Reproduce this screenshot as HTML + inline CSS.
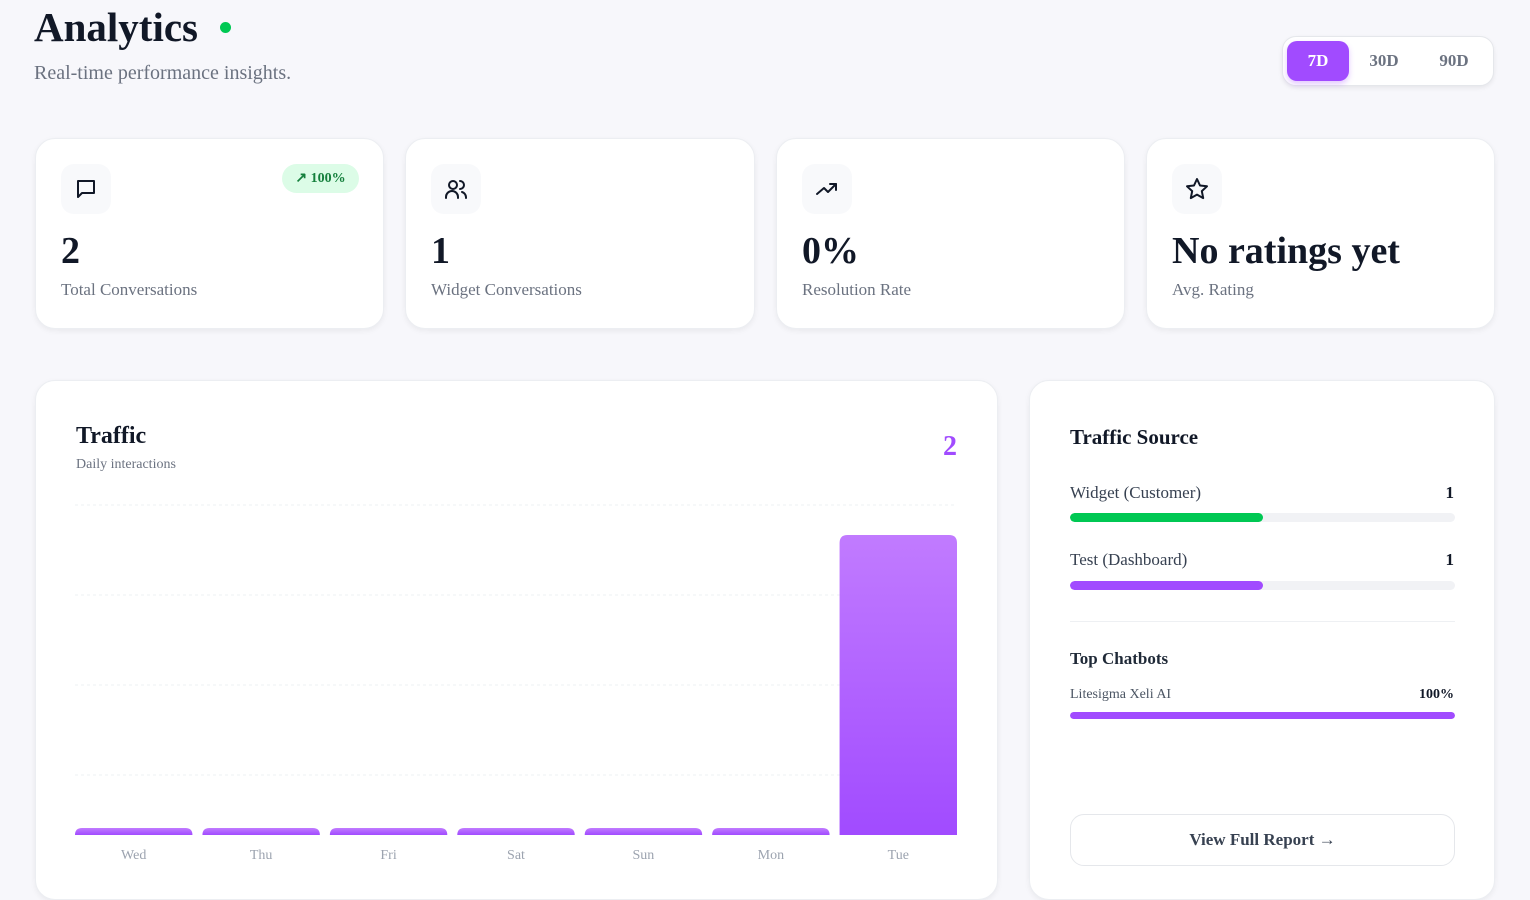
<!DOCTYPE html>
<html><head><meta charset="utf-8">
<style>
*{box-sizing:border-box;margin:0;padding:0}
body{width:1530px;height:872px;overflow:hidden;background:#f7f7fb;font-family:"Liberation Serif",serif;color:#111827;position:relative}
.abs{position:absolute}
.card{position:absolute;background:#fff;border-radius:20px;border:1px solid #eceef2;box-shadow:0 2px 6px rgba(0,0,0,0.06)}
.icon{position:absolute;left:25px;top:25px;width:50px;height:50px;border-radius:13px;background:#f8f9fb;display:flex;align-items:center;justify-content:center}
.val{position:absolute;left:25px;top:88px;font-size:38px;font-weight:bold;line-height:48px;color:#111827}
.lab{position:absolute;left:25px;top:141px;font-size:17px;color:#6b7280}
.track{position:absolute;height:9px;border-radius:5px;background:#f1f2f5;overflow:hidden}
.fill{height:100%;border-radius:5px}
</style></head><body>
<div class="abs" style="left:34px;top:2px;font-size:41px;font-weight:bold;line-height:50px">Analytics</div>
<div class="abs" style="left:220px;top:22px;width:11px;height:11px;border-radius:50%;background:#00c853"></div>
<div class="abs" style="left:34px;top:62px;font-size:20px;color:#6b7280">Real-time performance insights.</div>

<div class="abs" style="left:1282px;top:36px;width:212px;height:50px;background:#fff;border-radius:14px;border:1px solid #e5e7eb;box-shadow:0 2px 5px rgba(0,0,0,0.07)">
  <div class="abs" style="left:4px;top:4px;width:62px;height:40px;border-radius:10px;background:#a14bff;color:#fff;font-weight:bold;font-size:17px;display:flex;align-items:center;justify-content:center;box-shadow:0 3px 6px rgba(161,75,255,0.3)">7D</div>
  <div class="abs" style="left:70px;top:4px;width:62px;height:40px;color:#6b7280;font-weight:bold;font-size:17px;display:flex;align-items:center;justify-content:center">30D</div>
  <div class="abs" style="left:140px;top:4px;width:62px;height:40px;color:#6b7280;font-weight:bold;font-size:17px;display:flex;align-items:center;justify-content:center">90D</div>
</div>

<div class="card" style="left:35px;top:138px;width:349px;height:191px">
  <div class="icon"><svg width="24" height="24" viewBox="0 0 24 24" fill="none" stroke="#111827" stroke-width="2" stroke-linejoin="round"><path d="M4 4h16v12H8l-4 4z"/></svg></div>
  <div class="abs" style="left:246px;top:25px;width:77px;height:29px;border-radius:15px;background:#dcfce7;color:#15803d;font-weight:bold;font-size:14px;display:flex;align-items:center;justify-content:center">↗&nbsp;100%</div>
  <div class="val">2</div>
  <div class="lab">Total Conversations</div>
</div>
<div class="card" style="left:405px;top:138px;width:350px;height:191px">
  <div class="icon"><svg width="24" height="24" viewBox="0 0 24 24" fill="none" stroke="#111827" stroke-width="2" stroke-linecap="round"><circle cx="9" cy="8" r="4"/><path d="M2 21v-1a6 6 0 0 1 12 0v1"/><path d="M16 4a4 4 0 0 1 0 8"/><path d="M18 15a6 6 0 0 1 4 5v1"/></svg></div>
  <div class="val">1</div>
  <div class="lab">Widget Conversations</div>
</div>
<div class="card" style="left:776px;top:138px;width:349px;height:191px">
  <div class="icon"><svg width="24" height="24" viewBox="0 0 24 24" fill="none" stroke="#111827" stroke-width="2" stroke-linecap="round" stroke-linejoin="round"><path d="M2 17l7-6 4 4 8-8"/><path d="M15 7h6v6"/></svg></div>
  <div class="val">0%</div>
  <div class="lab">Resolution Rate</div>
</div>
<div class="card" style="left:1146px;top:138px;width:349px;height:191px">
  <div class="icon"><svg width="24" height="24" viewBox="0 0 24 24" fill="none" stroke="#111827" stroke-width="2" stroke-linejoin="round"><path d="M12 2l3 6.5 7 .8-5.2 4.8 1.4 7L12 17.6 5.8 21.1l1.4-7L2 9.3l7-.8z"/></svg></div>
  <div class="val">No ratings yet</div>
  <div class="lab">Avg. Rating</div>
</div>

<div class="card" style="left:35px;top:380px;width:963px;height:520px">
  <div class="abs" style="left:40px;top:42px;font-size:24px;font-weight:bold">Traffic</div>
  <div class="abs" style="left:40px;top:76px;font-size:14px;color:#6b7280">Daily interactions</div>
  <div class="abs" style="right:40px;top:50px;font-size:28px;font-weight:bold;color:#a14bff">2</div>
</div>
<svg class="abs" id="chart" style="left:0;top:0" width="1000" height="872"></svg>

<div class="card" style="left:1029px;top:380px;width:466px;height:520px">
  <div class="abs" style="left:40px;top:44px;font-size:21px;font-weight:bold">Traffic Source</div>
  <div class="abs" style="left:40px;top:102px;font-size:17px;color:#374151">Widget (Customer)</div>
  <div class="abs" style="right:40px;top:102px;font-size:17px;font-weight:bold">1</div>
  <div class="track" style="left:40px;top:132px;width:385px"><div class="fill" style="width:50%;background:#00c853"></div></div>
  <div class="abs" style="left:40px;top:169px;font-size:17px;color:#374151">Test (Dashboard)</div>
  <div class="abs" style="right:40px;top:169px;font-size:17px;font-weight:bold">1</div>
  <div class="track" style="left:40px;top:200px;width:385px"><div class="fill" style="width:50%;background:#a14bff"></div></div>
  <div class="abs" style="left:40px;top:240px;width:385px;height:1px;background:#eef0f3"></div>
  <div class="abs" style="left:40px;top:268px;font-size:17px;font-weight:bold;color:#1f2937">Top Chatbots</div>
  <div class="abs" style="left:40px;top:306px;font-size:14px;color:#4b5563">Litesigma Xeli AI</div>
  <div class="abs" style="right:40px;top:306px;font-size:14px;font-weight:bold">100%</div>
  <div class="track" style="left:40px;top:331px;width:385px;height:7px"><div class="fill" style="width:100%;background:#a14bff"></div></div>
  <div class="abs" style="left:40px;top:433px;width:385px;height:52px;border:1px solid #e5e7eb;border-radius:14px;display:flex;align-items:center;justify-content:center;font-size:17px;font-weight:bold;color:#374151">View Full Report →</div>
</div>

<script>
const days = ["Wed","Thu","Fri","Sat","Sun","Mon","Tue"];
const interactions = [0,0,0,0,0,0,2];
const yMax = 2.2;
const gridTicks = [0.2,0.8,1.4,2.0];
const svg = document.getElementById('chart');
const NS = 'http://www.w3.org/2000/svg';
const x0 = 75, x1 = 957, yTop = 505, yBot = 835;
const band = (x1 - x0 + 10) / days.length;
const xPos = i => x0 + i * band;
const yPos = v => yBot - (v / yMax) * (yBot - yTop);
const defs = document.createElementNS(NS,'defs');
defs.innerHTML = '<linearGradient id="g" x1="0" y1="0" x2="0" y2="1"><stop offset="0" stop-color="#c17bff"/><stop offset="1" stop-color="#a14bff"/></linearGradient>';
svg.appendChild(defs);
gridTicks.forEach(t => {
  const l = document.createElementNS(NS,'line');
  const gy = yTop + (t - 0.2) / 0.6 * 90;
  l.setAttribute('x1', x0); l.setAttribute('x2', x1);
  l.setAttribute('y1', gy); l.setAttribute('y2', gy);
  l.setAttribute('stroke', '#eef0f3'); l.setAttribute('stroke-dasharray', '3 3');
  
  
  svg.appendChild(l);
});
days.forEach((d, i) => {
  const v = interactions[i];
  const w = band - 10;
  const top = Math.min(yPos(v), yBot - 7);
  const h = yBot - top;
  const r = Math.min(8, h);
  const x = xPos(i);
  const p = document.createElementNS(NS,'path');
  p.setAttribute('d', `M${x},${yBot} V${top+r} Q${x},${top} ${x+r},${top} H${x+w-r} Q${x+w},${top} ${x+w},${top+r} V${yBot} Z`);
  p.setAttribute('fill', 'url(#g)');
  
  
  svg.appendChild(p);
  const t = document.createElementNS(NS,'text');
  t.setAttribute('x', x + w/2); t.setAttribute('y', 859);
  t.setAttribute('text-anchor', 'middle'); t.setAttribute('font-size', '14');
  t.setAttribute('fill', '#9ca3af'); t.setAttribute('font-family', 'Liberation Serif, serif');
  t.textContent = d;
  
  
  svg.appendChild(t);
});
</script>
</body></html>
